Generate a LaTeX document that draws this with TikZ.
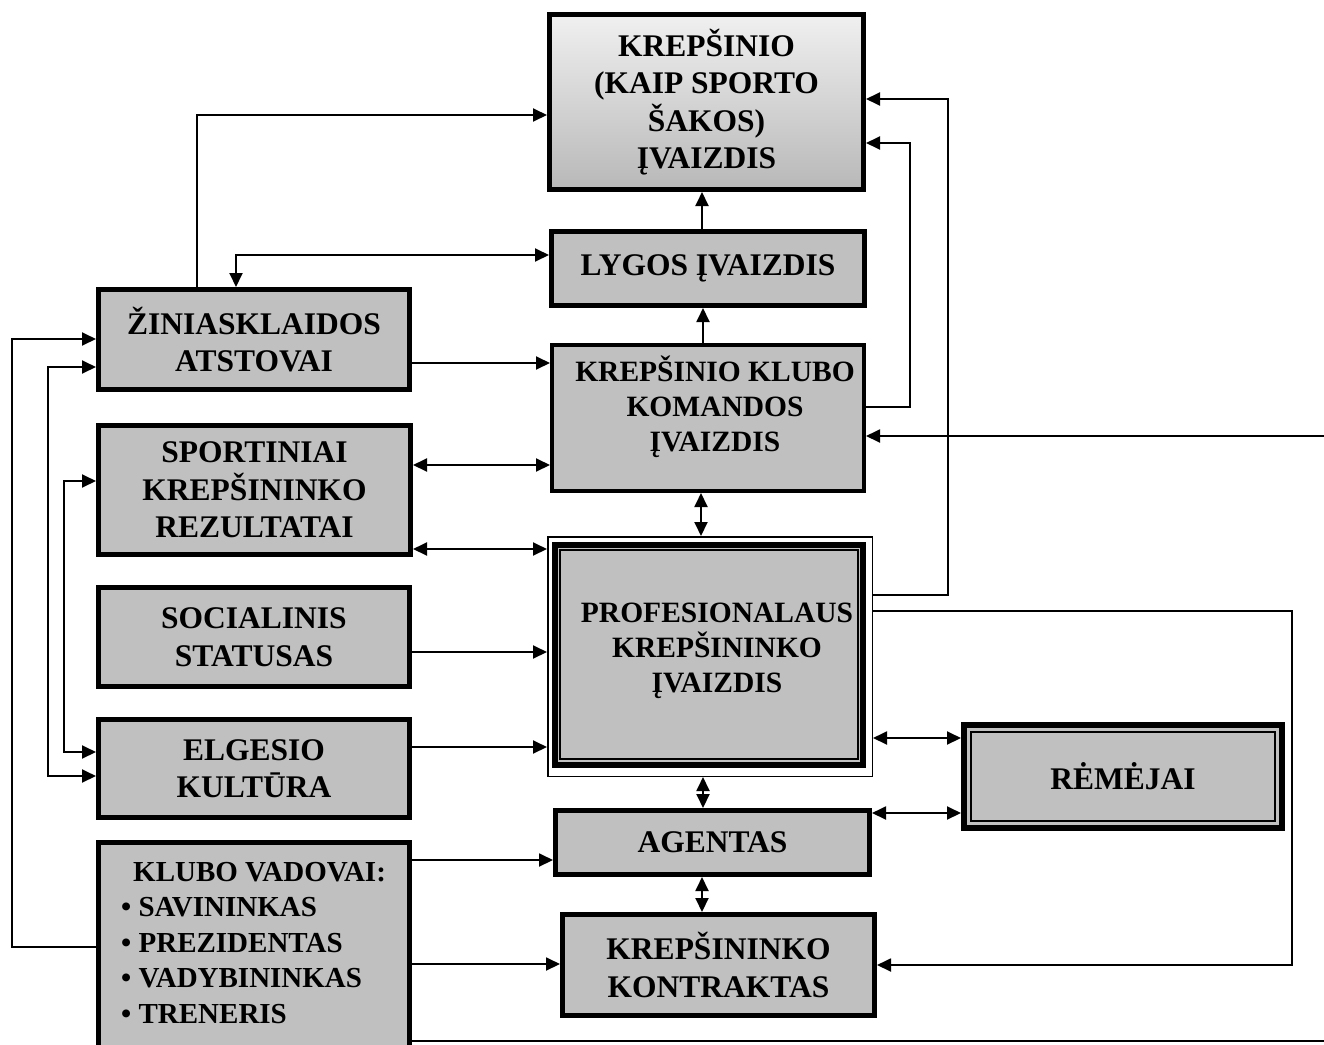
\documentclass[tikz,border=0pt]{standalone}
\usepackage{fontspec}
\setmainfont{Liberation Serif}
\usetikzlibrary{arrows.meta}
\definecolor{boxgray}{RGB}{192,192,192}
\definecolor{shadetop}{RGB}{240,240,240}
\definecolor{shadebot}{RGB}{184,184,184}

\begin{document}
\begin{tikzpicture}[x=1pt,y=-1pt,
  lbl/.style={font=\bfseries\fontsize{31.5}{37.5}\selectfont, align=center},
  lblsmall/.style={font=\bfseries\fontsize{29.5}{35}\selectfont, align=center},
  box/.style={lbl, draw=black, line width=5pt, fill=boxgray, inner sep=0pt},
  link/.style={line width=1.9pt, -{Triangle[length=14pt,width=13pt]}},
  link2/.style={line width=1.9pt, {Triangle[length=14pt,width=13pt]}-{Triangle[length=14pt,width=13pt]}}]
\useasboundingbox (0,0) rectangle (1324,1044);
\clip (0,0) rectangle (1324,1044);

% ---------- centre column ----------
\node[box, top color=shadetop, bottom color=shadebot,
      minimum width=314pt, minimum height=175pt] (sporto) at (706.5,102)
  {KREPŠINIO\\(KAIP SPORTO\\ŠAKOS)\\ĮVAIZDIS};
\node[box, minimum width=313pt, minimum height=74pt] (lygos) at (708,268.5)
  {LYGOS ĮVAIZDIS};
\node[box, line width=4pt, minimum width=312pt, minimum height=146pt] (komandos) at (708,418) {};
\node[lblsmall, inner sep=0pt] (komandos-txt) at (715,407) {KREPŠINIO KLUBO\\KOMANDOS\\ĮVAIZDIS};

% triple-framed central box
\node[draw, line width=1.5pt, inner sep=0pt,
      minimum width=324.5pt, minimum height=239.5pt] (prof) at (710,656.5) {};
\draw[line width=6pt, fill=boxgray] ([shift={(8,9)}]prof.north west) rectangle ([shift={(-10,-12)}]prof.south east);
\draw[line width=1.5pt] ([shift={(13,14)}]prof.north west) rectangle ([shift={(-15,-18)}]prof.south east);
\node[lblsmall, inner sep=0pt] (prof-txt) at (717,651) {PROFESIONALAUS\\KREPŠININKO\\ĮVAIZDIS};

\node[box, minimum width=314pt, minimum height=64pt] (agentas) at (712.5,842.5) {AGENTAS};
\node[box, minimum width=312pt, minimum height=101pt] (kontraktas) at (718.5,965)
  {KREPŠININKO\\KONTRAKTAS};

% double-framed sponsors box
\node[box, line width=6pt, minimum width=318pt, minimum height=103pt] (remejai) at (1123,776.5)
  {RĖMĖJAI};
\draw[line width=1.5pt] ([shift={(10,10)}]remejai.north west) rectangle ([shift={(-10,-10)}]remejai.south east);

% ---------- left column ----------
\node[box, minimum width=311pt, minimum height=100pt] (zini) at (254,339.5)
  {ŽINIASKLAIDOS\\ATSTOVAI};
\node[box, minimum width=312pt, minimum height=129pt] (sport) at (254.5,490)
  {SPORTINIAI\\KREPŠININKO\\REZULTATAI};
\node[box, minimum width=311pt, minimum height=99pt] (social) at (254,637)
  {SOCIALINIS\\STATUSAS};
\node[box, minimum width=311pt, minimum height=98pt] (elgesio) at (254,768.5)
  {ELGESIO\\KULTŪRA};
\node[box, minimum width=311pt, minimum height=215pt] (vadovai) at (254,950) {};
\node[anchor=north west, align=left, inner sep=0pt,
      font=\bfseries\fontsize{29}{35.5}\selectfont] (vadovai-txt) at (121,862)
  {\hspace*{12pt}KLUBO VADOVAI:\\• SAVININKAS\\• PREZIDENTAS\\• VADYBININKAS\\• TRENERIS};

% ---------- routing points ----------
\coordinate (a1) at (197,115);
\coordinate (b1) at (236,255);
\coordinate (c1) at (702,0);
\coordinate (d1) at (703,0);
\coordinate (e1) at (0,363);
\coordinate (f1) at (0,465);
\coordinate (g1) at (0,549);
\coordinate (h1) at (0,652);
\coordinate (i1) at (0,747);
\coordinate (j1) at (0,860);
\coordinate (k1) at (0,964);
\coordinate (l1) at (12,947);
\coordinate (l2) at (12,339);
\coordinate (m1) at (48,367);
\coordinate (m2) at (48,776);
\coordinate (n1) at (64,481);
\coordinate (n2) at (64,752);
\coordinate (o1) at (910,407);
\coordinate (o2) at (910,143);
\coordinate (p1) at (948,595);
\coordinate (p2) at (948,99);
\coordinate (q1) at (1292,611);
\coordinate (q2) at (1292,965);
\coordinate (r1) at (1340,1041);
\coordinate (r2) at (1340,436);
\coordinate (s1) at (0,738);
\coordinate (t1) at (0,813);
\coordinate (u1) at (701,0);
\coordinate (v1) at (703,0);
\coordinate (w1) at (702,0);

% ---------- connectors ----------
\draw[link]  (zini.north -| a1) |- (sporto.west |- a1);
\draw[link2] (zini.north -| b1) |- (lygos.west |- b1);
\draw[link]  (lygos.north -| c1) -- (sporto.south -| c1);
\draw[link]  (komandos.north -| d1) -- (lygos.south -| d1);
\draw[link]  (zini.east |- e1) -- (komandos.west |- e1);
\draw[link2] (sport.east |- f1) -- (komandos.west |- f1);
\draw[link2] (sport.east |- g1) -- (prof.west |- g1);
\draw[link]  (social.east |- h1) -- (prof.west |- h1);
\draw[link]  (elgesio.east |- i1) -- (prof.west |- i1);
\draw[link]  (vadovai.east |- j1) -- (agentas.west |- j1);
\draw[link]  (vadovai.east |- k1) -- (kontraktas.west |- k1);
\draw[link]  (vadovai.west |- l1) -- (l1) -- (l2) -- (zini.west |- l2);
\draw[link2] (zini.west |- m1) -- (m1) -- (m2) -- (elgesio.west |- m2);
\draw[link2] (sport.west |- n1) -- (n1) -- (n2) -- (elgesio.west |- n2);
\draw[link]  (komandos.east |- o1) -- (o1) -- (o2) -- (sporto.east |- o2);
\draw[link]  (prof.east |- p1) -- (p1) -- (p2) -- (sporto.east |- p2);
\draw[link]  (prof.east |- q1) -- (q1) -- (q2) -- (kontraktas.east |- q2);
\draw[link]  (vadovai.east |- r1) -- (r1) -- (r2) -- (komandos.east |- r2);
\draw[link2] (prof.east |- s1) -- (remejai.west |- s1);
\draw[link2] (agentas.east |- t1) -- (remejai.west |- t1);
\draw[link2] (komandos.south -| u1) -- (prof.north -| u1);
\draw[link2] (prof.south -| v1) -- (agentas.north -| v1);
\draw[link2] (agentas.south -| w1) -- (kontraktas.north -| w1);
\end{tikzpicture}
\end{document}
